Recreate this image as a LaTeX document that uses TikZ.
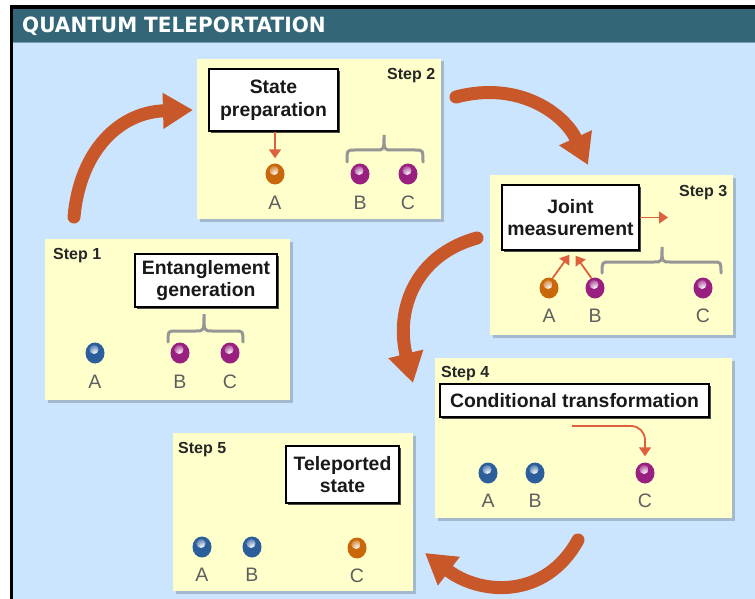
\documentclass[tikz,border=0pt]{standalone}
\usepackage{fontspec}
\setmainfont{Liberation Sans}
\newfontfamily\titlefont{DejaVu Sans}
\usetikzlibrary{arrows.meta,shadows,shapes.geometric}

\definecolor{bgblue}{RGB}{204,229,255}
\definecolor{titlebar}{RGB}{51,102,119}
\definecolor{titleline}{RGB}{125,160,175}
\definecolor{panelfill}{RGB}{255,255,204}
\definecolor{panelshadow}{RGB}{165,185,205}
\definecolor{bigarrow}{RGB}{200,88,42}
\definecolor{smallarrow}{RGB}{222,96,60}
\definecolor{qblue}{RGB}{44,94,156}
\definecolor{qmagenta}{RGB}{153,32,128}
\definecolor{qorange}{RGB}{200,104,10}
\definecolor{labelgray}{RGB}{95,95,95}
\definecolor{bracegray}{RGB}{150,150,150}

\tikzset{
  panel/.style={rectangle, inner sep=0pt, fill=panelfill,
    drop shadow={shadow xshift=2.5pt, shadow yshift=-2.5pt, fill=panelshadow, opacity=1}},
  textbox/.style={rectangle, draw=black, line width=1.5pt, fill=white, align=center,
    inner sep=0pt, text=black!90,
    font=\bfseries\fontsize{19.4}{22.5}\selectfont,
    drop shadow={shadow xshift=2pt, shadow yshift=-2pt, fill=black!70, opacity=1}},
  steplbl/.style={anchor=base west, inner sep=0pt, text=black!85,
    font=\bfseries\fontsize{16}{18}\selectfont},
  qlabel/.style={anchor=base, inner sep=0pt, text=labelgray,
    font=\fontsize{19.5}{21}\selectfont},
  ball/.style={ellipse, inner sep=0pt, minimum width=19pt, minimum height=21pt, fill=#1,
    path picture={\shade[inner color=white, outer color=#1]
      ([xshift=-1pt,yshift=3.5pt]path picture bounding box.center) circle (4.5pt);}},
  bigarr/.style={draw=bigarrow, line width=13pt, line cap=round,
    -{Triangle[length=30pt,width=34pt]}},
  smallarr/.style={draw=smallarrow, line width=1.8pt,
    -{Triangle[length=9pt,width=12pt]}},
  brace/.style={draw=bracegray, line width=3pt, line cap=round},
}

% curly brace: x-left, x-right, x-tip, y-tip, y-bar, y-ends
\newcommand\curlybrace[6]{%
  \draw[brace] (#1,#6) .. controls (#1,#5) .. (#1+8,#5) -- (#3-8,#5)
    .. controls (#3,#5) .. (#3,#4) .. controls (#3,#5) .. (#3+8,#5)
    -- (#2-8,#5) .. controls (#2,#5) .. (#2,#6);}

\begin{document}
\begin{tikzpicture}[x=1pt,y=-1pt]
\useasboundingbox (0,0) rectangle (755,599);
\fill[white] (0,0) rectangle (755,599);

% frame, background and title bar
\fill[black] (10,5) rectangle (755,599);
\fill[bgblue] (13,9) rectangle (755,599);
\fill[titlebar] (13,9) rectangle (755,42);
\fill[titleline] (13,42) rectangle (755,43.5);
\node[anchor=base west, inner sep=0pt, text=white,
      font=\titlefont\bfseries\fontsize{21}{24}\selectfont]
  (title) at (22,33) {\scalebox{0.956}[1]{QUANTUM TELEPORTATION}};

% panels
\node[panel, minimum width=245pt, minimum height=161pt] (p1) at (167.5,319.5) {};
\node[panel, minimum width=244pt, minimum height=160pt] (p2) at (319,139) {};
\node[panel, minimum width=243pt, minimum height=160pt] (p3) at (611.5,255) {};
\node[panel, minimum width=297pt, minimum height=160pt] (p4) at (583.5,438) {};
\node[panel, minimum width=240pt, minimum height=158pt] (p5) at (293,512) {};

% big cycle arrows
\coordinate (r1s) at (74,217);   \coordinate (r1e) at (193,110);
\coordinate (r2s) at (456,97);   \coordinate (r2e) at (588,165);
\coordinate (r3s) at (477,238);  \coordinate (r3e) at (413,383);
\coordinate (r4s) at (578,540);  \coordinate (r4e) at (425,553);
\draw[bigarr] (r1s) .. controls (80,150) and (120,112) .. (r1e);
\draw[bigarr] (r2s) .. controls (520,80) and (565,115) .. (r2e);
\draw[bigarr] (r3s) .. controls (415,255) and (395,310) .. (r3e);
\draw[bigarr] (r4s) .. controls (545,600) and (480,595) .. (r4e);

% Step 1
\node[steplbl] (s1) at (53,259) {Step 1};
\node[textbox, minimum width=142pt, minimum height=53pt] (box1) at (206,280.5)
  {Entanglement\\generation};
\curlybrace{168}{243}{204}{314}{331}{342}
\node[ball=qblue]    (a1) at (95,353) {};
\node[ball=qmagenta] (b1) at (180,353) {};
\node[ball=qmagenta] (c1) at (230,353) {};
\node[qlabel] (la1) at ([yshift=-35pt]a1.center) {A};
\node[qlabel] (lb1) at ([yshift=-35pt]b1.center) {B};
\node[qlabel] (lc1) at ([yshift=-35pt]c1.center) {C};

% Step 2
\node[steplbl] (s2) at (387,80) {Step 2};
\node[textbox, minimum width=129pt, minimum height=62pt] (box2) at (273.5,100)
  {State\\preparation};
\curlybrace{347}{423}{384}{135}{150}{162}
\node[ball=qorange]  (a2) at (275,174) {};
\node[ball=qmagenta] (b2) at (360,174) {};
\node[ball=qmagenta] (c2) at (408,174) {};
\node[qlabel] (la2) at ([yshift=-35pt]a2.center) {A};
\node[qlabel] (lb2) at ([yshift=-35pt]b2.center) {B};
\node[qlabel] (lc2) at ([yshift=-35pt]c2.center) {C};
\draw[smallarr] (box2.south -| a2) -- ([yshift=5pt]a2.north);

% Step 3
\node[steplbl] (s3) at (679,196) {Step 3};
\node[textbox, minimum width=137pt, minimum height=65pt] (box3) at (570.5,217.5)
  {Joint\\measurement};
\curlybrace{602}{721}{662}{247}{262}{273}
\node[ball=qorange]  (a3) at (549,288) {};
\node[ball=qmagenta] (b3) at (595,288) {};
\node[ball=qmagenta] (c3) at (703,288) {};
\node[qlabel] (la3) at ([yshift=-34pt]a3.center) {A};
\node[qlabel] (lb3) at ([yshift=-34pt]b3.center) {B};
\node[qlabel] (lc3) at ([yshift=-34pt]c3.center) {C};
\coordinate (m3) at (668,217.5);
\draw[smallarr] (box3.east) -- (m3);
\draw[smallarr] (a3.70) -- ([xshift=-1pt,yshift=-4pt]box3.south);
\draw[smallarr] (b3.110) -- ([xshift=5pt,yshift=-5pt]box3.south);

% Step 4
\node[steplbl] (s4) at (441,377) {Step 4};
\node[textbox, minimum width=269pt, minimum height=33pt] (box4) at (574.5,400.5)
  {Conditional transformation};
\node[ball=qblue]    (a4) at (488,473) {};
\node[ball=qblue]    (b4) at (535,473) {};
\node[ball=qmagenta] (c4) at (645,473) {};
\node[qlabel] (la4) at ([yshift=-34pt]a4.center) {A};
\node[qlabel] (lb4) at ([yshift=-34pt]b4.center) {B};
\node[qlabel] (lc4) at ([yshift=-34pt]c4.center) {C};
\coordinate (c4s) at (572,426);
\draw[smallarr, rounded corners=14pt] (c4s) -| ([yshift=6pt]c4.north);

% Step 5
\node[steplbl] (s5) at (178,453) {Step 5};
\node[textbox, minimum width=113pt, minimum height=57pt] (box5) at (342.5,474.5)
  {Teleported\\state};
\node[ball=qblue]   (a5) at (202,547) {};
\node[ball=qblue]   (b5) at (252,547) {};
\node[ball=qorange] (c5) at (357,548) {};
\node[qlabel] (la5) at ([yshift=-34pt]a5.center) {A};
\node[qlabel] (lb5) at ([yshift=-34pt]b5.center) {B};
\node[qlabel] (lc5) at ([yshift=-34pt]c5.center) {C};
\end{tikzpicture}
\end{document}
